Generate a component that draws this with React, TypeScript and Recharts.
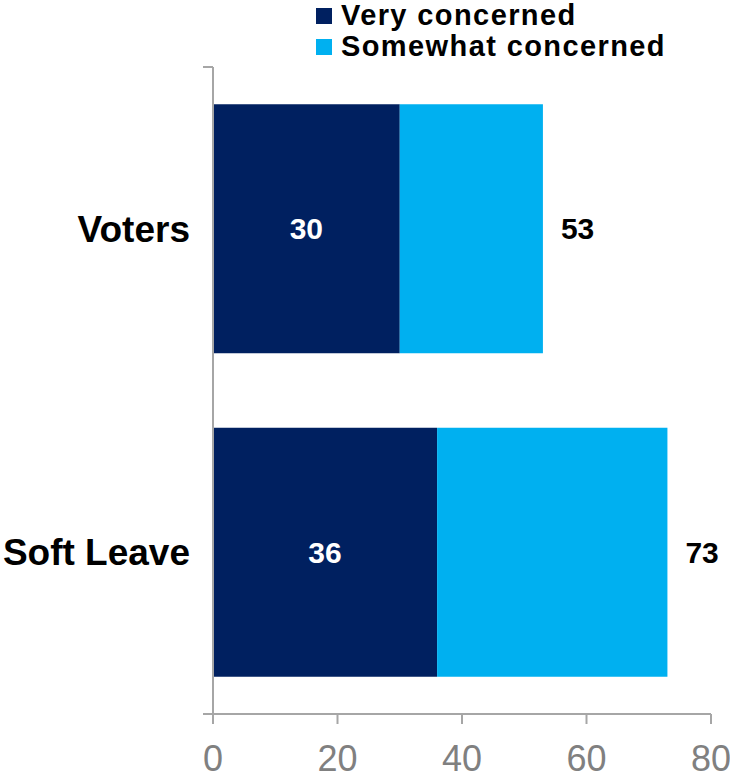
import React from 'react';
import { BarChart, Bar, XAxis, YAxis, Legend, LabelList } from 'recharts';

const categories = ['Voters', 'Soft Leave'];
const veryConcerned = [30, 36];
const somewhatConcerned = [23, 37];
const totals = [53, 73];
const xTicks = [0, 20, 40, 60, 80];
const seriesNames = ['Very concerned', 'Somewhat concerned'];

const DARK = '#002060';
const LIGHT = '#00B0F0';
const AXIS = '#A6A6A6';
const FONT = '"Liberation Sans", Arial, sans-serif';

const data = categories.map((name, i) => ({
  name,
  very: veryConcerned[i],
  somewhat: somewhatConcerned[i],
  total: totals[i],
}));

const renderLegend = (props: any) => {
  const payload = [...(props.payload || [])].sort(
    (a: any, b: any) => seriesNames.indexOf(a.value) - seriesNames.indexOf(b.value)
  );
  return (
    <div
      style={{
        fontFamily: FONT,
        fontWeight: 'bold',
        fontSize: 29,
        letterSpacing: 1.4,
        lineHeight: '31px',
        color: '#000',
      }}
    >
      {payload.map((entry: any) => (
        <div key={entry.value} style={{ display: 'flex', alignItems: 'center', whiteSpace: 'nowrap' }}>
          <span style={{ width: 16, height: 16, background: entry.color, marginRight: 9, display: 'inline-block' }} />
          <span>{entry.value}</span>
        </div>
      ))}
    </div>
  );
};

export default function App() {
  return (
    <div style={{ position: 'absolute', left: 0, top: 0, width: 730, height: 778, background: '#fff' }}>
      <BarChart
        width={730}
        height={778}
        data={data}
        layout="vertical"
        barCategoryGap="11.5%"
        margin={{ top: 67, right: 19, bottom: 0, left: 0 }}
        style={{ fontFamily: FONT }}
      >
        <XAxis
          type="number"
          domain={[0, 80]}
          ticks={xTicks}
          height={64}
          tickSize={10}
          tickMargin={21}
          stroke={AXIS}
          strokeWidth={2}
          tick={{ fill: '#808080', fontSize: 36, fontFamily: FONT }}
        />
        <YAxis yAxisId="cat" type="category" dataKey="name" hide width={0} />
        <YAxis
          yAxisId="num"
          type="number"
          domain={[0, 2]}
          ticks={[0, 1, 2]}
          allowDataOverflow
          width={213}
          tickSize={10}
          stroke={AXIS}
          strokeWidth={2}
          tickFormatter={() => ''}
        />
        <Legend
          layout="vertical"
          align="center"
          verticalAlign="middle"
          wrapperStyle={{ top: 0, left: 316, width: 'auto' }}
          content={renderLegend}
        />
        <Bar yAxisId="cat" dataKey="very" name="Very concerned" stackId="a" fill={DARK} isAnimationActive={false}>
          <LabelList dataKey="very" position="center" fill="#fff" fontSize={30} fontWeight="bold" fontFamily={FONT} />
          <LabelList dataKey="name" position="left" offset={23} fill="#000" fontSize={37} fontWeight="bold" fontFamily={FONT} />
        </Bar>
        <Bar yAxisId="cat" dataKey="somewhat" name="Somewhat concerned" stackId="a" fill={LIGHT} isAnimationActive={false}>
          <LabelList dataKey="total" position="right" offset={18} fill="#000" fontSize={30} fontWeight="bold" fontFamily={FONT} />
        </Bar>
      </BarChart>
    </div>
  );
}
